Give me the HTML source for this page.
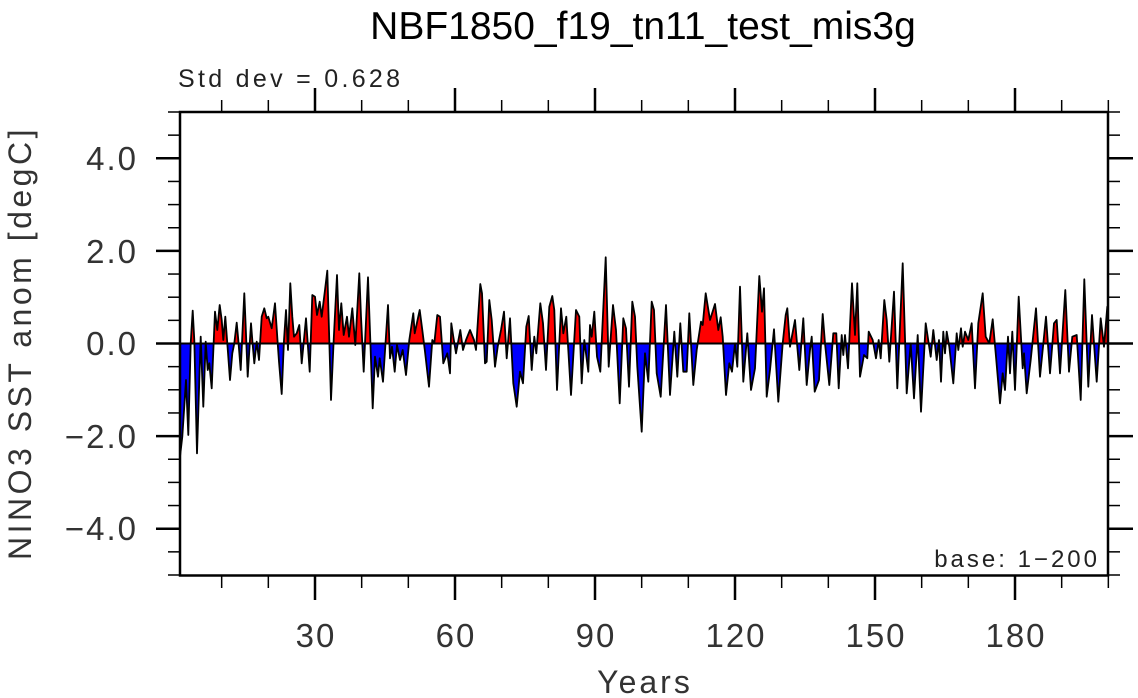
<!DOCTYPE html>
<html><head><meta charset="utf-8"><style>
html,body{margin:0;padding:0;background:#fff;}
svg{display:block;}
text{font-family:"Liberation Sans",sans-serif;}
</style></head><body>
<svg id="s" width="1138" height="698" viewBox="0 0 1138 698" xmlns="http://www.w3.org/2000/svg">
<defs>
<clipPath id="ctop"><rect x="180" y="112" width="928" height="231.5"/></clipPath>
<clipPath id="cbot"><rect x="180" y="343.5" width="928" height="232"/></clipPath>
</defs>
<text x="643" y="39" font-size="39" text-anchor="middle" fill="#000">NBF1850_f19_tn11_test_mis3g</text>
<text x="178" y="87" font-size="25" fill="#222" letter-spacing="3.3">Std dev = 0.628</text>
<text x="1100" y="567" font-size="24" fill="#222" text-anchor="end" letter-spacing="3">base: 1−200</text>
<g id="series"></g>
<rect x="180" y="112" width="928" height="463.5" fill="none" stroke="#000" stroke-width="2.5"/>
<g id="ticks" stroke="#000"></g>
<g font-size="33" fill="#333" text-anchor="end" letter-spacing="2">
<text x="138" y="170">4.0</text>
<text x="138" y="263">2.0</text>
<text x="138" y="355">0.0</text>
<text x="138" y="448">−2.0</text>
<text x="138" y="540">−4.0</text>
</g>
<g font-size="33" fill="#333" text-anchor="middle" letter-spacing="2">
<text x="316" y="647">30</text>
<text x="456" y="647">60</text>
<text x="596" y="647">90</text>
<text x="736" y="647">120</text>
<text x="876" y="647">150</text>
<text x="1016" y="647">180</text>
</g>
<text x="645" y="693" font-size="32" fill="#333" text-anchor="middle" letter-spacing="3">Years</text>
<text transform="translate(31,343) rotate(-90)" font-size="32" fill="#333" text-anchor="middle" letter-spacing="3.5">NINO3 SST anom [degC]</text>
</svg>
<script>
var z1=[15,650,22,590,33,420,40,585,47,310,53,212,58,300,66,640,77,290,85,500,92,305,98,390,103,370,110,445,120,215,127,270,134,195,140,240,145,300,151,230,157,310,165,420,172,340,178,310,185,248,190,300,197,390,208,160,212,260,218,410,228,250,232,300,238,370,245,305,252,360,260,230,268,205,275,235,280,230,290,265,300,190,308,310,312,365,320,462,327,300,333,210,339,330,346,130,352,230,357,290,365,280,373,255,380,370,393,235,404,395,412,165,420,170,426,225,434,185,440,230,450,150,457,92,462,270,468,480,476,300,486,105,492,270,499,190,506,285,516,230,522,290,532,205,541,315,553,100,558,230,566,395,579,112,586,300,593,505,600,350,609,410,614,355,624,425,639,195,645,355,651,320,659,395,666,315,675,360,683,330,693,405,703,300,715,220,719,280,734,210,742,270,750,335,762,440,772,300,778,310,787,225,795,230,805,370,817,340,825,400,829,250,835,290,843,340,856,270,864,330,873,300,885,270,897,300,903,330,916,132,921,160,930,370,935,365,943,180,950,240,960,380,968,320,978,270,987,215,995,355,1005,235,1015,430,1025,500,1035,395,1044,430,1054,260,1061,228,1070,390,1078,290,1084,340,1096,190,1104,250,1113,390,1123,200,1132,168,1138,210,1146,450,1158,205,1165,280,1174,230,1188,465,1203,210,1213,230,1220,430,1228,300,1240,395,1245,255,1250,290,1258,215,1266,350,1276,395,1292,52,1301,380,1314,195,1323,270,1334,490,1345,235,1353,265,1362,440,1372,185,1380,230,1387,380,1400,575];
var z2=[15,340,25,425,35,185,42,210,50,400,62,470,78,195,90,465,103,275,112,410,121,250,130,395,140,395,148,220,160,435,170,330,183,245,188,255,197,160,210,240,225,192,235,270,242,232,248,290,258,465,268,370,276,395,285,310,292,380,300,140,310,425,322,280,333,450,345,385,358,108,366,215,372,145,380,470,390,390,402,268,415,485,428,310,437,225,442,205,450,320,465,240,478,390,490,235,500,435,510,330,515,290,524,455,537,420,548,222,555,310,568,435,580,280,589,280,596,445,605,285,610,345,615,285,624,385,636,130,645,285,652,130,660,410,672,345,682,355,686,275,698,300,708,355,716,300,722,355,733,180,740,240,748,365,762,155,772,445,788,70,800,460,812,310,822,475,833,285,843,515,857,250,872,350,880,270,890,360,897,300,903,425,910,275,915,340,920,275,928,320,940,430,950,280,955,330,963,265,968,320,975,275,985,300,995,250,1005,445,1015,250,1028,160,1037,290,1048,310,1058,238,1068,350,1080,490,1088,400,1095,450,1104,290,1110,400,1117,275,1125,450,1136,170,1148,385,1152,340,1160,460,1172,360,1188,205,1200,410,1218,230,1230,400,1242,250,1250,240,1260,400,1276,150,1287,395,1297,290,1310,285,1322,480,1333,118,1345,440,1356,225,1370,425,1382,235,1392,320,1402,200,1405,200];
var pts=[];
for(var i=0;i<z1.length;i+=2)pts.push([175+z1[i]/3,240+z1[i+1]/3]);
for(var i=0;i<z2.length;i+=2)pts.push([640+z2[i]/3,240+z2[i+1]/3]);
pts[0][0]=180;pts[pts.length-1][0]=1108;
var Y0=343.5;
var line=pts.map(function(p,i){return (i?'L':'M')+p[0].toFixed(1)+','+p[1].toFixed(1);}).join('');
var poly='M180,'+Y0+'L'+line.slice(1)+'L1108,'+Y0+'Z';
var ns='http://www.w3.org/2000/svg';
var g=document.getElementById('series');
function mk(tag,attrs){var e=document.createElementNS(ns,tag);for(var k in attrs)e.setAttribute(k,attrs[k]);return e;}
g.appendChild(mk('path',{d:poly,fill:'#ff0000','clip-path':'url(#ctop)'}));
g.appendChild(mk('path',{d:poly,fill:'#0000ff','clip-path':'url(#cbot)'}));
g.appendChild(mk('line',{x1:180,y1:Y0,x2:1108,y2:Y0,stroke:'#000','stroke-width':2}));
g.appendChild(mk('path',{d:line,fill:'none',stroke:'#000','stroke-width':1.8,'stroke-linejoin':'round'}));
var t=document.getElementById('ticks');
function L(x1,y1,x2,y2,w){t.appendChild(mk('line',{x1:x1,y1:y1,x2:x2,y2:y2,'stroke-width':w}));}
for(var v=-5;v<=5.001;v+=0.5){
  var y=Y0-v*46.3; var maj=Math.abs(v%2)<0.01;
  L(180,y,maj?156:168,y,maj?2.5:1.5);
  L(1108,y,maj?1133:1120,y,maj?2.5:1.5);
}
for(var yr=10;yr<=200;yr+=10){
  var x=315+(yr-30)*4.6667; var maj=yr%30==0;
  L(x,576,x,maj?600:588,maj?2.5:1.5);
  L(x,112,x,maj?88:100,maj?2.5:1.5);
}
</script>
</body></html>
